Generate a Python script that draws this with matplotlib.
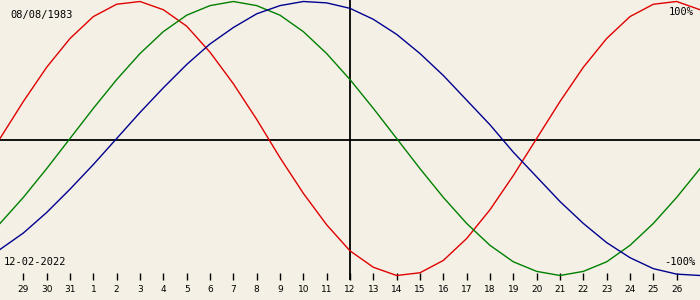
import matplotlib
matplotlib.use("Agg")
import matplotlib.pyplot as plt
import numpy as np

# Days relative to the selected date (12-02-2022), -15 .. +15
days = list(range(-15, 16))

# Tick labels for days -14 .. +14
tick_days = list(range(-14, 15))
tick_labels = ["29", "30", "31", "1", "2", "3", "4", "5", "6", "7", "8", "9", "10",
               "11", "12", "13", "14", "15", "16", "17", "18", "19", "20", "21",
               "22", "23", "24", "25", "26"]

# Physical (red)
physical = [0.00, 0.27, 0.52, 0.73, 0.89, 0.98, 1.00, 0.94, 0.82, 0.63, 0.40, 0.14,
            -0.14, -0.40, -0.63, -0.82, -0.94, -1.00, -0.98, -0.89, -0.73, -0.52,
            -0.27, 0.00, 0.27, 0.52, 0.73, 0.89, 0.98, 1.00, 0.94]
# Emotional (green)
emotional = [-0.62, -0.43, -0.22, 0.00, 0.22, 0.43, 0.62, 0.78, 0.90, 0.97, 1.00,
             0.97, 0.90, 0.78, 0.62, 0.43, 0.22, 0.00, -0.22, -0.43, -0.62, -0.78,
             -0.90, -0.97, -1.00, -0.97, -0.90, -0.78, -0.62, -0.43, -0.22]
# Intellectual (blue)
intellectual = [-0.81, -0.69, -0.54, -0.37, -0.19, 0.00, 0.19, 0.37, 0.54, 0.69,
                0.81, 0.91, 0.97, 1.00, 0.99, 0.95, 0.87, 0.76, 0.62, 0.46, 0.28,
                0.10, -0.10, -0.28, -0.46, -0.62, -0.76, -0.87, -0.95, -0.99, -1.00]

birth_label = "08/08/1983"
date_label = "12-02-2022"

BG = "#f4f0e5"
W, H = 700, 300

fig = plt.figure(figsize=(7, 3), dpi=100, facecolor=BG)
ax = fig.add_axes([0, 0, 1, 1])
ax.set_facecolor(BG)

# pixel mapping: v=+1 -> y=1.5 px, v=-1 -> y=275.5 px (from top)
center_px, amp_px = 138.5, 137.0
ymax = center_px / amp_px
ymin = -(H - center_px) / amp_px
ax.set_xlim(-15, 15)
ax.set_ylim(ymin, ymax)
for s in ax.spines.values():
    s.set_visible(False)
ax.set_xticks([])
ax.set_yticks([])

def py(px):
    return (center_px - px) / amp_px

ax.plot(days, physical, color="#e00000", lw=1.0, zorder=3)
ax.plot(days, emotional, color="#008000", lw=1.0, zorder=3)
ax.plot(days, intellectual, color="#000090", lw=1.0, zorder=3)

ax.axhline(py(140), color="black", lw=1.3, zorder=2)
ax.vlines([0], py(280), ymax, color="black", lw=1.3, zorder=2)

# ticks and labels
ax.vlines(tick_days, py(273), py(280), color="black", lw=1.0, zorder=2)
for d, lab in zip(tick_days, tick_labels):
    ax.text(d, py(290), lab, ha="center", va="center", fontsize=6.5,
            family="DejaVu Sans", color="black")

mono = "DejaVu Sans Mono"
ax.text(10 / W, 1 - 15 / H, birth_label, transform=ax.transAxes, ha="left",
        va="center", fontsize=7.5, family=mono)
ax.text(4 / W, 1 - 262 / H, date_label, transform=ax.transAxes, ha="left",
        va="center", fontsize=7.5, family=mono)
ax.text(694 / W, 1 - 12 / H, "100%", transform=ax.transAxes, ha="right",
        va="center", fontsize=7.5, family=mono)
ax.text(695 / W, 1 - 262 / H, "-100%", transform=ax.transAxes, ha="right",
        va="center", fontsize=7.5, family=mono)

fig.savefig("out.png", dpi=100, facecolor=BG)
